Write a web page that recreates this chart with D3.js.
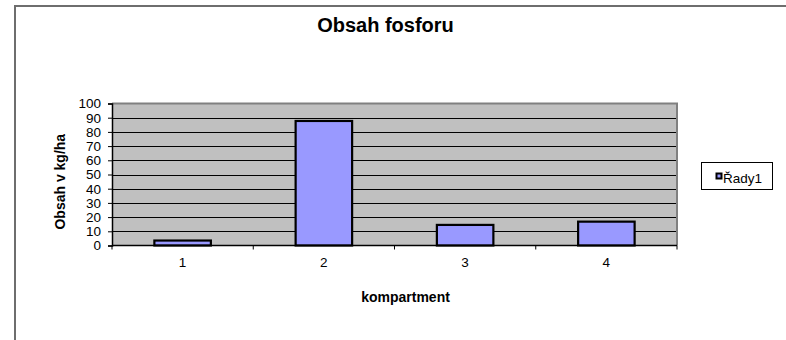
<!DOCTYPE html>
<html>
<head>
<meta charset="utf-8">
<script src="https://cdn.jsdelivr.net/npm/d3@7"></script>
<style>
  html, body { margin: 0; padding: 0; background: #fff; }
  svg { display: block; font-family: Arial, "Liberation Sans", sans-serif; }
</style>
</head>
<body>
<svg id="chart" width="786" height="340"></svg>
<script>
// Phosphorus content per compartment
const categories = ["1", "2", "3", "4"];
const values = [3.5, 87.7, 14.5, 16.8];
const yTicks = [0, 10, 20, 30, 40, 50, 60, 70, 80, 90, 100];
const seriesName = "Řady1";
const title = "Obsah fosforu";
const xTitle = "kompartment";
const yTitle = "Obsah v kg/ha";

const svg = d3.select("#chart");
const plot = { left: 112, right: 677, top: 103.5, bottom: 245.5 };

const x = d3.scaleBand().domain(categories).range([plot.left, plot.right]).paddingInner(0.6).paddingOuter(0.3);
const xOuter = d3.scaleBand().domain(categories).range([plot.left, plot.right]);
const y = d3.scaleLinear().domain([0, 100]).range([plot.bottom, plot.top]);

// chart frame
svg.append("path")
  .attr("d", `M15,341 L15,6 L787,6`)
  .attr("fill", "none").attr("stroke", "#6e6e6e").attr("stroke-width", 2);

// plot background
svg.append("rect")
  .attr("x", plot.left).attr("y", plot.top)
  .attr("width", plot.right - plot.left).attr("height", plot.bottom - plot.top)
  .attr("fill", "#c0c0c0");

// gridlines
svg.append("g").selectAll("line")
  .data(yTicks.filter(d => d > 0 && d < 100))
  .join("line")
  .attr("x1", plot.left).attr("x2", plot.right)
  .attr("y1", d => Math.round(y(d)) + 0.5).attr("y2", d => Math.round(y(d)) + 0.5)
  .attr("stroke", "#000").attr("stroke-width", 1);

// plot border top/right
svg.append("path")
  .attr("d", `M${plot.left},${plot.top} L${plot.right},${plot.top} L${plot.right},${plot.bottom}`)
  .attr("fill", "none").attr("stroke", "#808080").attr("stroke-width", 2);

// bars
svg.append("g").selectAll("rect")
  .data(values)
  .join("rect")
  .attr("x", (d, i) => x(categories[i]))
  .attr("y", d => y(d))
  .attr("width", x.bandwidth())
  .attr("height", d => y(0) - y(d))
  .attr("fill", "#9999ff")
  .attr("stroke", "#000")
  .attr("stroke-width", 2.2);

// y axis
const yAxis = svg.append("g")
  .attr("transform", `translate(${plot.left},0)`)
  .call(d3.axisLeft(y).tickValues(yTicks).tickSize(4).tickPadding(7).tickFormat(d3.format("d")));
yAxis.select(".domain").attr("stroke", "#000").attr("stroke-width", 1.5);
yAxis.selectAll(".tick line").attr("stroke", "#000");
yAxis.selectAll("text").attr("font-size", 13.5).attr("fill", "#000").attr("font-family", "Arial, 'Liberation Sans', sans-serif");

// x axis with ticks at category boundaries
const xAxisG = svg.append("g").attr("transform", `translate(0,${plot.bottom})`);
xAxisG.append("line")
  .attr("x1", plot.left).attr("x2", plot.right)
  .attr("stroke", "#000").attr("stroke-width", 1.5);
const boundaries = categories.map(c => xOuter(c)).concat([plot.right]);
xAxisG.selectAll("line.tk")
  .data(boundaries)
  .join("line").attr("class", "tk")
  .attr("x1", d => d).attr("x2", d => d)
  .attr("y1", 0).attr("y2", 4)
  .attr("stroke", "#000");
xAxisG.selectAll("text")
  .data(categories)
  .join("text")
  .attr("x", d => xOuter(d) + xOuter.bandwidth() / 2)
  .attr("y", 21.5)
  .attr("text-anchor", "middle")
  .attr("font-size", 13.5)
  .text(d => d);

// titles
svg.append("text")
  .attr("x", 385.5).attr("y", 31.5)
  .attr("text-anchor", "middle")
  .attr("font-size", 20).attr("font-weight", "bold")
  .text(title);

svg.append("text")
  .attr("x", 405.5).attr("y", 301.5)
  .attr("text-anchor", "middle")
  .attr("font-size", 14).attr("font-weight", "bold")
  .text(xTitle);

svg.append("text")
  .attr("transform", "translate(65,181.7) rotate(-90)")
  .attr("text-anchor", "middle")
  .attr("font-size", 14).attr("font-weight", "bold")
  .text(yTitle);

// legend
const legend = svg.append("g");
legend.append("rect")
  .attr("x", 701.5).attr("y", 162.5).attr("width", 71).attr("height", 27)
  .attr("fill", "#fff").attr("stroke", "#000").attr("stroke-width", 1);
legend.append("rect")
  .attr("x", 716.5).attr("y", 173.5).attr("width", 5).attr("height", 5)
  .attr("fill", "#9999ff").attr("stroke", "#000").attr("stroke-width", 2);
legend.append("text")
  .attr("x", 723).attr("y", 182.5)
  .attr("font-size", 13.5)
  .text(seriesName);
</script>
</body>
</html>
